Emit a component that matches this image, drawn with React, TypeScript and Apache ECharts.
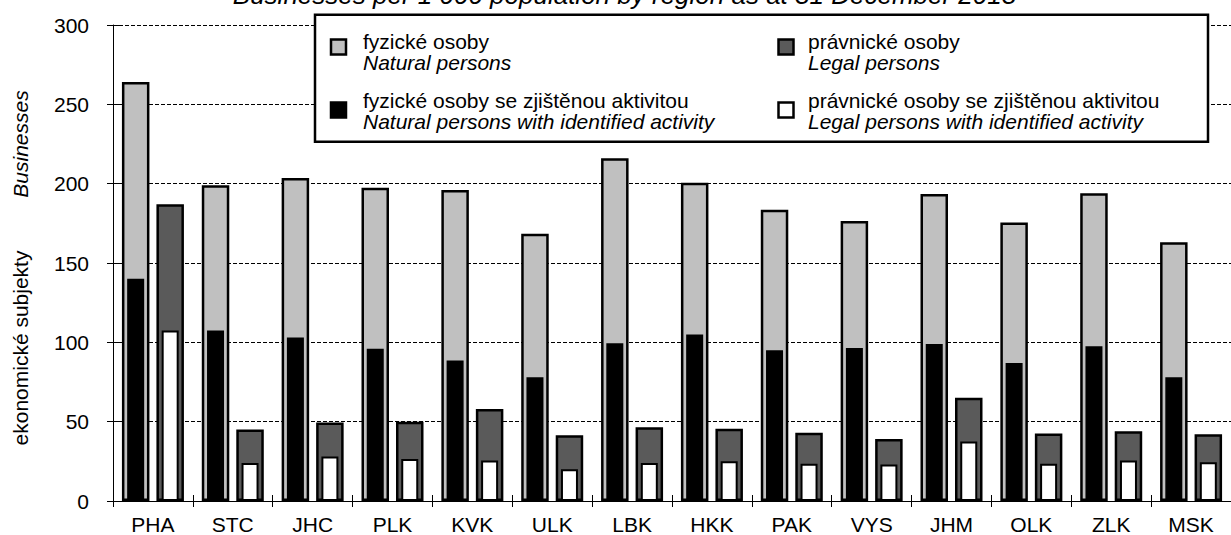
import React, { useEffect, useRef } from 'react';
import * as echarts from 'echarts';

const categories = ['PHA', 'STC', 'JHC', 'PLK', 'KVK', 'ULK', 'LBK', 'HKK', 'PAK', 'VYS', 'JHM', 'OLK', 'ZLK', 'MSK'];
const naturalPersons = [264, 199, 203.5, 197.5, 196, 168.5, 216, 200.5, 183.5, 176.5, 193.5, 175.5, 194, 163];
const legalPersons = [187, 45, 49.5, 50, 58, 41.5, 46.5, 45.5, 43, 39, 65, 42.5, 44, 42];
const naturalActive = [140, 107.5, 103, 96, 88.5, 78, 99.5, 105, 95, 96.5, 99, 87, 97.5, 78];
const legalActive = [107.5, 24, 28, 26.5, 25.5, 20, 24, 25, 23.5, 23, 37.5, 23.5, 25.5, 24.5];

const yMin = 0;
const yMax = 300;
const yInterval = 50;

const titleText = 'Businesses per 1 000 population by region as at 31 December 2013';
const yNameCz = 'ekonomické subjekty';
const yNameEn = 'Businesses';
const legendItems = [
  { cz: 'fyzické osoby', en: 'Natural persons', color: '#C0C0C0' },
  { cz: 'právnické osoby', en: 'Legal persons', color: '#5A5A5A' },
  { cz: 'fyzické osoby se zjištěnou aktivitou', en: 'Natural persons with identified activity', color: '#000000' },
  { cz: 'právnické osoby se zjištěnou aktivitou', en: 'Legal persons with identified activity', color: '#FFFFFF' },
];

const FONT = '"Liberation Sans", Arial, Helvetica, sans-serif';

export default function App() {
  const ref = useRef<HTMLDivElement>(null);

  useEffect(() => {
    const chart = echarts.init(ref.current as HTMLDivElement, null, { renderer: 'svg' });

    const outerW = 27.5;
    const innerW = 17;
    const pitch = 34.5;

    const legendPos = [
      { mx: 338.5, my: 47, tx: 363, y1: 41, y2: 62 },
      { mx: 786, my: 47, tx: 808, y1: 41, y2: 62 },
      { mx: 338.5, my: 110, tx: 363, y1: 100, y2: 121 },
      { mx: 786, my: 110, tx: 808, y1: 100, y2: 121 },
    ];
    const ms = 15;

    const legendGraphics: any[] = [];
    legendGraphics.push({
      type: 'rect',
      z: 100,
      shape: { x: 315, y: 14.7, width: 893, height: 127 },
      style: { fill: '#fff', stroke: '#000', lineWidth: 2.5 },
    });
    legendItems.forEach((it, i) => {
      const p = legendPos[i];
      legendGraphics.push({
        type: 'rect',
        z: 101,
        shape: { x: p.mx - ms / 2, y: p.my - ms / 2, width: ms, height: ms },
        style: { fill: it.color, stroke: '#000', lineWidth: 2.5 },
      });
      legendGraphics.push({
        type: 'text',
        z: 101,
        x: p.tx,
        y: p.y1,
        style: { text: it.cz, font: `21px ${FONT}`, fill: '#000', textAlign: 'left', textVerticalAlign: 'middle' },
      });
      legendGraphics.push({
        type: 'text',
        z: 101,
        x: p.tx,
        y: p.y2,
        style: { text: it.en, font: `italic 21px ${FONT}`, fill: '#000', textAlign: 'left', textVerticalAlign: 'middle' },
      });
    });

    chart.setOption({
      animation: false,
      backgroundColor: '#fff',
      textStyle: { fontFamily: FONT },
      grid: { left: 113, top: 25, width: 1123, height: 476.5, containLabel: false },
      graphic: [
        {
          type: 'text',
          z: 100,
          x: 624.5,
          y: -5,
          style: { text: titleText, font: `italic 26px ${FONT}`, fill: '#000', textAlign: 'center', textVerticalAlign: 'middle' },
        },
        {
          type: 'text',
          z: 100,
          x: 20.6,
          y: 144,
          rotation: Math.PI / 2,
          style: { text: yNameEn, font: `italic 21px ${FONT}`, fill: '#000', textAlign: 'center', textVerticalAlign: 'middle' },
        },
        {
          type: 'text',
          z: 100,
          x: 20.6,
          y: 348,
          rotation: Math.PI / 2,
          style: { text: yNameCz, font: `21px ${FONT}`, fill: '#000', textAlign: 'center', textVerticalAlign: 'middle' },
        },
        ...legendGraphics,
      ],
      xAxis: [
        {
          type: 'category',
          data: categories,
          position: 'bottom',
          axisLine: { show: true, lineStyle: { color: '#000', width: 1 } },
          axisTick: { show: true, inside: false, length: 6, lineStyle: { color: '#000', width: 1 } },
          axisLabel: { color: '#000', fontSize: 21, fontFamily: FONT, margin: 13, interval: 0 },
          splitLine: { show: false },
        },
        {
          type: 'category',
          data: categories,
          position: 'bottom',
          axisLine: { show: false },
          axisTick: { show: true, inside: true, length: 6, lineStyle: { color: '#000', width: 1 } },
          axisLabel: { show: false },
          splitLine: { show: false },
        },
      ],
      yAxis: [
        {
          type: 'value',
          min: yMin,
          max: yMax,
          interval: yInterval,
          position: 'left',
          axisLine: { show: true, lineStyle: { color: '#000', width: 1 } },
          axisTick: { show: true, inside: false, length: 6, lineStyle: { color: '#000', width: 1 } },
          axisLabel: { color: '#000', fontSize: 21, fontFamily: FONT, margin: 24 },
          splitLine: { show: true, lineStyle: { color: '#000', width: 1, type: [4, 2] } },
        },
        {
          type: 'value',
          min: yMin,
          max: yMax,
          interval: yInterval,
          position: 'left',
          offset: 0,
          axisLine: { show: false },
          axisTick: { show: true, inside: true, length: 6, lineStyle: { color: '#000', width: 1 } },
          axisLabel: { show: false },
          splitLine: { show: false },
        },
      ],
      series: [
        {
          name: legendItems[0].cz,
          type: 'bar',
          xAxisIndex: 0,
          yAxisIndex: 0,
          data: naturalPersons,
          barWidth: outerW,
          barGap: `${((pitch - outerW) / outerW) * 100}%`,
          itemStyle: { color: legendItems[0].color, borderColor: '#000', borderWidth: 2.5 },
          z: 2,
        },
        {
          name: legendItems[1].cz,
          type: 'bar',
          xAxisIndex: 0,
          yAxisIndex: 0,
          data: legalPersons,
          barWidth: outerW,
          barGap: `${((pitch - outerW) / outerW) * 100}%`,
          itemStyle: { color: legendItems[1].color, borderColor: '#000', borderWidth: 2.5 },
          z: 2,
        },
        {
          name: legendItems[2].cz,
          type: 'bar',
          xAxisIndex: 1,
          yAxisIndex: 0,
          data: naturalActive,
          barWidth: innerW,
          barGap: `${((pitch - innerW) / innerW) * 100}%`,
          itemStyle: { color: legendItems[2].color, borderColor: '#000', borderWidth: 1.5 },
          z: 3,
        },
        {
          name: legendItems[3].cz,
          type: 'bar',
          xAxisIndex: 1,
          yAxisIndex: 0,
          data: legalActive,
          barWidth: innerW,
          barGap: `${((pitch - innerW) / innerW) * 100}%`,
          itemStyle: { color: legendItems[3].color, borderColor: '#000', borderWidth: 2 },
          z: 3,
        },
      ],
    });

    return () => {
      chart.dispose();
    };
  }, []);

  return (
    <div
      ref={ref}
      style={{ position: 'fixed', left: 0, top: 0, width: 1231, height: 535, background: '#fff' }}
    />
  );
}
